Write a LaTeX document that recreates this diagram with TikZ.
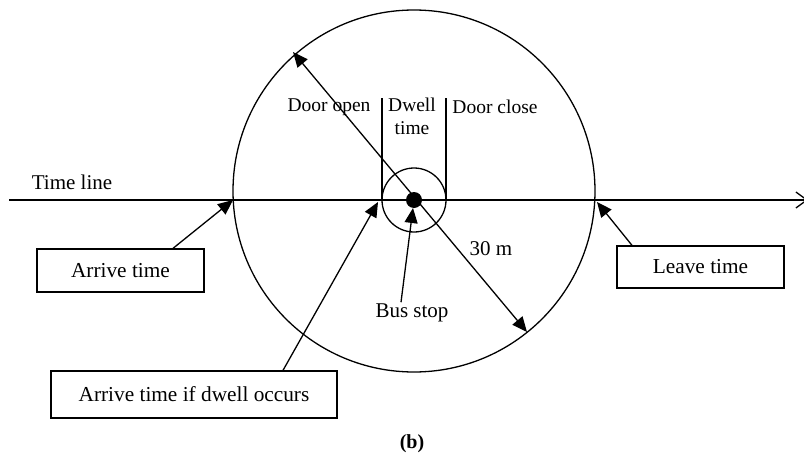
\documentclass[tikz,border=0pt]{standalone}
\usepackage{fontspec}
\setmainfont{Liberation Serif}
\usetikzlibrary{arrows.meta}
\begin{document}
\begin{tikzpicture}[x=1pt,y=-1pt,line width=1.3pt,
  lbl/.style={font=\fontsize{19.5}{23}\selectfont,inner sep=0pt},
  blbl/.style={font=\fontsize{21}{24}\selectfont,inner sep=0pt},
  tbox/.style={draw,line width=1.3pt,inner sep=0pt,font=\fontsize{21.3}{24}\selectfont},
  tipend/.style={-{Triangle[length=15pt,width=13pt]}},
  tipboth/.style={{Triangle[length=15pt,width=13pt]}-{Triangle[length=15pt,width=13pt]}}]
\useasboundingbox (0,0) rectangle (804,455);
% circles
\node[circle,draw,minimum size=362pt,inner sep=0pt] (bc) at (414,191) {};
\node[circle,draw,minimum size=64pt,inner sep=0pt] (sc) at (414,200) {};
\node[circle,fill,minimum size=16pt,inner sep=0pt] (dot) at (414,200) {};
% time line
\coordinate (tl0) at (9,200);
\coordinate (tl1) at (808,200);
\draw[-{Straight Barb[length=11pt,width=16pt]}] (tl0) -- (tl1);
\node[blbl] (tltext) at (72,182) {Time line};
% dwell lines
\coordinate (v1t) at (382,98);
\coordinate (v1b) at (382,200);
\coordinate (v2t) at (446,98);
\coordinate (v2b) at (446,200);
\draw (v1t) -- (v1b);
\draw (v2t) -- (v2b);
\node[lbl] (dopen) at (329,107) {Door open};
\node[lbl,align=center] (dwell) at (412,116) {Dwell\\time};
\node[lbl] (dclose) at (495,107) {Door close};
% radius arrow
\coordinate (ua) at (293,52);
\coordinate (la) at (527,332);
\draw[tipboth] (ua) -- (la);
\node[blbl] (rad) at (491,249) {30 m};
% bus stop
\node[blbl] (bus) at (412,313) {Bus stop};
\coordinate (bustip) at (413,208);
\draw[tipend] ([xshift=-11pt,yshift=1pt]bus.north) -- (bustip);
% boxes
\node[tbox,minimum width=167pt,minimum height=43pt] (ab) at (120.5,270.5) {Arrive time};
\node[tbox,minimum width=167pt,minimum height=42pt] (lb) at (700.5,267) {Leave time};
\node[tbox,minimum width=286pt,minimum height=47pt] (db) at (194,394.5) {Arrive time if dwell occurs};
\coordinate (atip) at (233,200);
\coordinate (ltip) at (597,202);
\coordinate (dtip) at (378,202);
\draw[tipend] ([xshift=52.5pt]ab.north) -- (atip);
\draw[tipend] ([xshift=-68.5pt]lb.north) -- (ltip);
\draw[tipend] ([xshift=89pt]db.north) -- (dtip);
% caption
\node[lbl,font=\fontsize{20}{22}\selectfont\bfseries] (cap) at (412,444) {(b)};
\end{tikzpicture}
\end{document}
